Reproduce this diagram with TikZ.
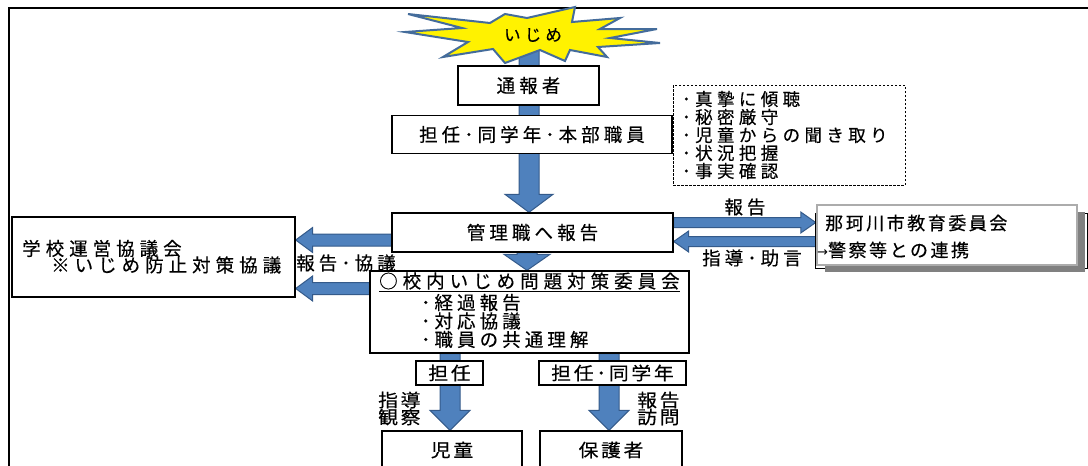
\documentclass[tikz,border=0pt]{standalone}
\usepackage{fontspec}
\setmainfont{Noto Sans CJK JP}[FakeBold=0.35]
\newfontfamily\dvfont{DejaVu Sans}
\usetikzlibrary{calc}
\definecolor{afill}{RGB}{79,129,189}
\definecolor{aline}{RGB}{52,90,138}
\definecolor{burstline}{RGB}{68,108,155}
\definecolor{bgray}{RGB}{172,172,172}
\definecolor{sgray}{RGB}{128,128,128}
\pgfdeclarelayer{background}
\pgfsetlayers{background,main}
\newcommand\fsl[3]{\fontsize{#1}{#2}\selectfont\addfontfeatures{LetterSpace=#3}}
\newcommand\arrdown[5]{\draw[blk] ([xshift=-#3pt]#1) -- ([xshift=-#3pt,yshift=#5pt]#2) -- ([xshift=-#4pt,yshift=#5pt]#2) -- (#2) -- ([xshift=#4pt,yshift=#5pt]#2) -- ([xshift=#3pt,yshift=#5pt]#2) -- ([xshift=#3pt]#1) -- cycle;}
\newcommand\arrleft[5]{\draw[blk] ([yshift=#3pt]#1) -- ([xshift=#5pt,yshift=#3pt]#2) -- ([xshift=#5pt,yshift=#4pt]#2) -- (#2) -- ([xshift=#5pt,yshift=-#4pt]#2) -- ([xshift=#5pt,yshift=-#3pt]#2) -- ([yshift=-#3pt]#1) -- cycle;}
\newcommand\arrright[5]{\draw[blk] ([yshift=#3pt]#1) -- ([xshift=-#5pt,yshift=#3pt]#2) -- ([xshift=-#5pt,yshift=#4pt]#2) -- (#2) -- ([xshift=-#5pt,yshift=-#4pt]#2) -- ([xshift=-#5pt,yshift=-#3pt]#2) -- ([yshift=-#3pt]#1) -- cycle;}
\tikzset{
  box/.style={draw=black, line width=1.3pt, fill=white, inner sep=0pt},
  blk/.style={fill=afill, draw=aline, line width=1pt},
  txt/.style={inner sep=0pt, font={\fsl{18.5}{20}{22}}},
  smalltxt/.style={inner sep=0pt, font={\fsl{18}{17}{15}\addfontfeatures{FakeStretch=1.1}}},
}
\begin{document}
\begin{tikzpicture}[x=1pt,y=-1pt]
\useasboundingbox (0,0) rectangle (1088,466);
\clip (0,0) rectangle (1088,466);
% outer frame
\draw[line width=2.5pt] (9,480) -- (9,8) -- (1100,8);

% starburst
\draw[fill=yellow, draw=burstline, line width=2pt, line join=miter]
  (408,14) -- (490,23) -- (505,14) -- (527,18) -- (575,7) -- (572,22) -- (620,18) -- (600,29)
  -- (657,29) -- (610,38) -- (660,43) -- (598,47) -- (607,57) -- (570,50) -- (565,61)
  -- (540,50) -- (505,63) -- (493,49) -- (443,57) -- (468,42) -- (405,32) -- (462,28) -- cycle;
\node[txt, font={\fsl{16.5}{16}{25}}] (ijime) at (533,35) {いじめ};

% main boxes
\node[box, txt, minimum width=141pt, minimum height=39pt] (tsuho) at (528.5,85.5) {通報者};
\node[box, txt, minimum width=280pt, minimum height=38pt] (tannin) at (532,134.5) {担任･同学年･本部職員};
\node[box, txt, minimum width=281pt, minimum height=39pt] (kanri) at (532.5,232.5) {管理職へ報告};

\node[draw, dash pattern=on 2.5pt off 1.5pt, line width=1pt, minimum width=232pt, minimum height=100pt,
      text width=214pt, align=left, inner sep=0pt, font={\fsl{17.5}{18}{25}}] (list) at (789,135)
  {･真摯に傾聴\\･秘密厳守\\･児童からの聞き取り\\･状況把握\\･事実確認};

\node[box, minimum width=283pt, minimum height=80pt] (gakko) at (153.5,257) {};
\node[txt, anchor=west, font={\fsl{18.5}{20}{27}}] (gk1) at (22,248.5) {学校運営協議会};
\node[txt, anchor=west, font={\fsl{18.5}{20}{27}}] (gk2) at (51,265) {※いじめ防止対策協議};

\node[box, minimum width=319pt, minimum height=82pt] (iinkai) at (529.5,312) {};
\node[txt, anchor=west, font={\fsl{18.5}{20}{27}}] (c0) at (379,282) {\underline{○校内いじめ問題対策委員会}};
\node[txt, anchor=west, align=left, font={\fsl{18.5}{18.5}{22}}] (c1) at (421,321) {･経過報告\\･対応協議\\･職員の共通理解};

\node[box, smalltxt, minimum width=67pt, minimum height=24pt] (tanA) at (449.5,373) {担任};
\node[box, smalltxt, minimum width=147pt, minimum height=24pt] (tanB) at (612.5,373) {担任･同学年};
\node[box, smalltxt, minimum width=140pt, minimum height=38pt] (jidou) at (452,450) {児童};
\node[box, smalltxt, minimum width=142pt, minimum height=38pt] (hogo) at (611,450) {保護者};

% board of education
\node[draw=black, line width=0.9pt, minimum width=272pt, minimum height=55pt, inner sep=0pt] (boardback) at (951,240.5) {};
\node[fill=sgray, minimum width=260pt, minimum height=60pt, inner sep=0pt] (boardshadow) at (955,242) {};
\node[draw=bgray, fill=white, line width=2.5pt, minimum width=260pt, minimum height=60pt, inner sep=0pt] (board) at (947,235) {};
\node[txt, anchor=west, font={\fsl{18}{17}{14}}] (b1) at (825,223) {那珂川市教育委員会};
\node[txt, anchor=west, font={\fsl{18}{17}{14}}] (b2) at (817,250) {{\dvfont\fontsize{13}{13}\selectfont →}警察等との連携};

% labels
\node[txt] (l1) at (346,263) {報告･協議};
\node[txt] (l2) at (745,207) {報告};
\node[txt] (l3) at (752,258) {指導･助言};
\node[smalltxt, anchor=west, align=left] (l4) at (378,408.5) {指導\\観察};
\node[smalltxt, anchor=west, align=left] (l5) at (637,408.5) {報告\\訪問};

% arrow coordinates
\coordinate (a1s) at (529,48);
\coordinate (a1e) at (a1s |- kanri.north);
\coordinate (a2s) at (kanri.south -| 527,0);
\coordinate (a2e) at (iinkai.north -| 527,0);
\coordinate (a3s) at (kanri.west |- 0,240);
\coordinate (a3e) at (gakko.east |- a3s);
\coordinate (a4s) at (iinkai.west |- 0,288.5);
\coordinate (a4e) at (gakko.east |- a4s);
\coordinate (a5s) at (kanri.east |- 0,222.5);
\coordinate (a5e) at (board.west |- a5s);
\coordinate (a6s) at (board.west |- 0,241.5);
\coordinate (a6e) at (kanri.east |- a6s);
\coordinate (a7s) at (iinkai.south -| 450,0);
\coordinate (a7e) at (jidou.north -| 450,0);
\coordinate (a8s) at (iinkai.south -| 609,0);
\coordinate (a8e) at (hogo.north -| 609,0);

\begin{pgfonlayer}{background}
\arrdown{a1s}{a1e}{10}{24}{18}
\arrdown{a2s}{a2e}{10}{23}{16}
\arrleft{a3s}{a3e}{6}{12.5}{17}
\arrleft{a4s}{a4e}{6}{12.5}{17}
\arrright{a5s}{a5e}{5}{10.5}{15}
\arrleft{a6s}{a6e}{5}{10.5}{15}
\arrdown{a7s}{a7e}{10}{20}{20}
\arrdown{a8s}{a8e}{10}{20}{20}
\end{pgfonlayer}
\end{tikzpicture}
\end{document}
